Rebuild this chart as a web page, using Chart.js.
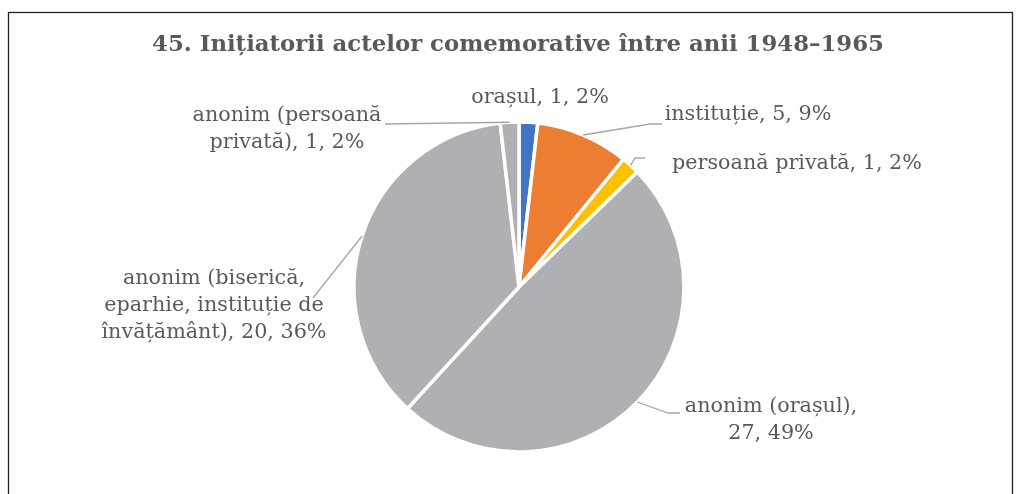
<!DOCTYPE html>
<html><head><meta charset="utf-8">
<script src="https://cdn.jsdelivr.net/npm/chart.js@4/dist/chart.umd.min.js"></script>
<style>html,body{margin:0;padding:0;background:#fff;overflow:hidden}</style>
</head><body>
<canvas id="c" width="1021" height="494" style="display:block;width:1021px;height:494px"></canvas>
<script>
// ---- data ----
const titleText = "45. Inițiatorii actelor comemorative între anii 1948–1965";
const categories = ["orașul", "instituție", "persoană privată", "anonim (orașul)",
  "anonim (biserică, eparhie, instituție de învățământ)", "anonim (persoană privată)"];
const values = [1, 5, 1, 27, 20, 1];
const sliceColors = ["#4472C4", "#ED7D31", "#FFC000", "#AFB0B3", "#AFB0B3", "#AFB0B3"];

// ---- layout (label placement, leader bends) ----
const labelLayout = [
  {x: 540, y: 98,  wrap: 400, leader: null},
  {x: 748, y: 115, wrap: 400, leader: [[650, 124], [662, 124]]},
  {x: 797, y: 164, wrap: 400, leader: [[635, 158], [645, 158]]},
  {x: 771, y: 407, wrap: 195, leader: [[668, 413], [680, 413]]},
  {x: 214, y: 279, wrap: 240, leader: [[313, 298]]},
  {x: 287, y: 116, wrap: 210, leader: [[385, 124]]}
];
const FONT_FAMILY = '"DejaVu Serif", "Liberation Serif", serif';
const TEXT_COLOR = "#595959";
const LINE_COLOR = "#A6A6A6";

const total = values.reduce((a, b) => a + b, 0);

function fitSize(ctx, text, weight, target, base) {
  ctx.font = weight + " " + base + "px " + FONT_FAMILY;
  const w = ctx.measureText(text).width;
  return base * target / w;
}
function wrapText(ctx, text, maxW) {
  const words = text.split(" ");
  const lines = [];
  let cur = "";
  for (const w of words) {
    const t = cur ? cur + " " + w : w;
    if (cur && ctx.measureText(t).width > maxW) { lines.push(cur); cur = w; }
    else cur = t;
  }
  if (cur) lines.push(cur);
  return lines;
}

const decor = {
  id: "decor",
  beforeDraw(chart) {
    const ctx = chart.ctx;
    ctx.save();
    ctx.fillStyle = "#fff";
    ctx.fillRect(0, 0, chart.width, chart.height);
    ctx.strokeStyle = "#222222";
    ctx.lineWidth = 1.3;
    ctx.strokeRect(8.5, 12.5, 1004, 600);
    // title
    const ts = fitSize(ctx, titleText, "bold", 732, 22);
    ctx.font = "bold " + ts + "px " + FONT_FAMILY;
    ctx.fillStyle = TEXT_COLOR;
    ctx.textAlign = "center";
    ctx.textBaseline = "middle";
    ctx.fillText(titleText, 518, 45);
    ctx.restore();
  },
  afterDraw(chart) {
    const ctx = chart.ctx;
    const meta = chart.getDatasetMeta(0);
    ctx.save();
    const ls = fitSize(ctx, "persoană privată, 1, 2%", "normal", 250, 20);
    const scale = ls / 20;
    ctx.font = ls + "px " + FONT_FAMILY;
    ctx.textAlign = "center";
    ctx.textBaseline = "middle";
    meta.data.forEach((arc, i) => {
      const L = labelLayout[i];
      const p = arc.getProps(["x", "y", "startAngle", "endAngle", "outerRadius"], true);
      const mid = (p.startAngle + p.endAngle) / 2;
      if (L.leader) {
        ctx.strokeStyle = LINE_COLOR;
        ctx.lineWidth = 1.3;
        ctx.beginPath();
        ctx.moveTo(p.x + Math.cos(mid) * p.outerRadius, p.y + Math.sin(mid) * p.outerRadius);
        L.leader.forEach(pt => ctx.lineTo(pt[0], pt[1]));
        ctx.stroke();
      }
      const pct = Math.round(values[i] / total * 100);
      const text = categories[i] + ", " + values[i] + ", " + pct + "%";
      const lines = wrapText(ctx, text, L.wrap * scale);
      ctx.fillStyle = TEXT_COLOR;
      lines.forEach((ln, k) => ctx.fillText(ln, L.x, L.y + k * 27));
    });
    ctx.restore();
  }
};

new Chart(document.getElementById("c"), {
  type: "pie",
  data: {
    labels: categories,
    datasets: [{
      data: values,
      backgroundColor: sliceColors,
      borderColor: "#ffffff",
      borderWidth: 3.5
    }]
  },
  options: {
    responsive: false,
    animation: false,
    devicePixelRatio: 1,
    radius: 165,
    layout: {padding: {left: 319, right: 302, top: 97, bottom: 17}},
    plugins: {legend: {display: false}, tooltip: {enabled: false}, title: {display: false}}
  },
  plugins: [decor]
});
</script>
</body></html>
